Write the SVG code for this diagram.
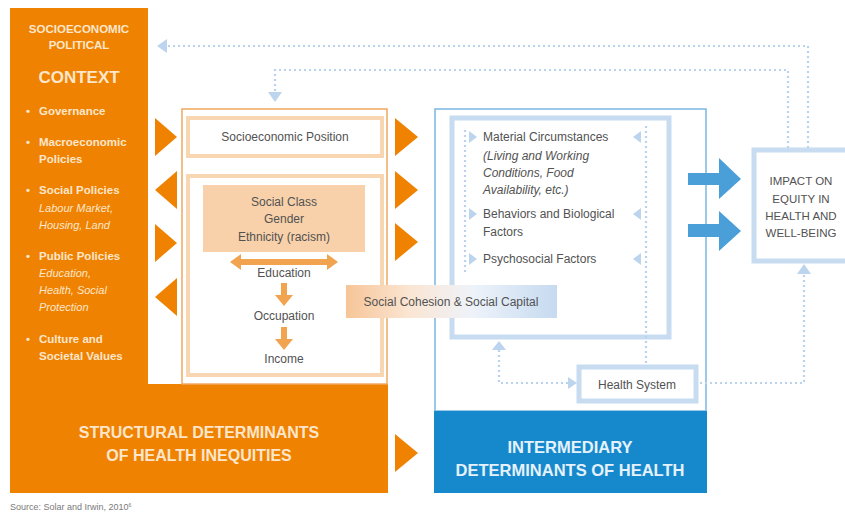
<svg xmlns="http://www.w3.org/2000/svg" width="845" height="520" viewBox="0 0 845 520">
  <defs>
    <style>
      text { font-family: "Liberation Sans", Arial, sans-serif; }
      .ctx { fill: #fde6cc; font-size: 11.5px; font-weight: bold; }
      .ctxi { fill: #fde6cc; font-size: 11px; font-style: italic; }
      .lbl { fill: #525252; font-size: 12px; }
      .lbli { fill: #525252; font-size: 12px; font-style: italic; }
      .imp { fill: #525252; font-size: 11.5px; }
      .big { fill: #fde6cc; font-size: 16px; font-weight: bold; }
      .bigb { fill: #e6f2fb; font-size: 16.5px; font-weight: bold; }
      .peach { fill: none; stroke: #f9d6b2; stroke-width: 4; }
      .lblue { fill: none; stroke: #c8dcf1; stroke-width: 5; }
      .dot { fill: none; stroke: #b9d2ee; stroke-width: 2.2; stroke-dasharray: 2 3; }
      .dhead { fill: #bcd4ee; }
      .otri { fill: #ef8200; }
      .larrow { fill: #f2a34f; }
      .barrow { fill: #4a9fd9; }
    </style>
    <linearGradient id="cohesionFill" x1="0" y1="0" x2="1" y2="0">
      <stop offset="0" stop-color="#f6c597"/>
      <stop offset="0.3" stop-color="#fbe5d3"/>
      <stop offset="0.6" stop-color="#eef3fa"/>
      <stop offset="1" stop-color="#c6daf0"/>
    </linearGradient>
  </defs>

  <rect width="845" height="520" fill="#ffffff"/>

  <!-- Structural block: context column and bottom band -->
  <g id="structural">
    <path d="M10,8 H148 V384 H388 V493 H10 Z" fill="#ef8200"/>
    <text class="big" x="199" y="438" text-anchor="middle">STRUCTURAL DETERMINANTS</text>
    <text class="big" x="199" y="461" text-anchor="middle">OF HEALTH INEQUITIES</text>
  </g>

  <g id="context">
    <text class="ctx" x="79" y="33" text-anchor="middle">SOCIOECONOMIC</text>
    <text class="ctx" x="79" y="49" text-anchor="middle">POLITICAL</text>
    <text class="ctx" x="79" y="83" text-anchor="middle" style="font-size:17px">CONTEXT</text>
    <text class="ctx" x="26" y="115">•</text>
    <text class="ctx" x="39" y="115">Governance</text>
    <text class="ctx" x="26" y="146">•</text>
    <text class="ctx" x="39" y="146">Macroeconomic</text>
    <text class="ctx" x="39" y="163">Policies</text>
    <text class="ctx" x="26" y="194">•</text>
    <text class="ctx" x="39" y="194">Social Policies</text>
    <text class="ctxi" x="39" y="212">Labour Market,</text>
    <text class="ctxi" x="39" y="229">Housing, Land</text>
    <text class="ctx" x="26" y="260">•</text>
    <text class="ctx" x="39" y="260">Public Policies</text>
    <text class="ctxi" x="39" y="277">Education,</text>
    <text class="ctxi" x="39" y="294">Health, Social</text>
    <text class="ctxi" x="39" y="311">Protection</text>
    <text class="ctx" x="26" y="343">•</text>
    <text class="ctx" x="39" y="343">Culture and</text>
    <text class="ctx" x="39" y="360">Societal Values</text>
  </g>

  <!-- Socioeconomic position frame -->
  <g id="position-frame">
    <rect x="182" y="109" width="205" height="275" fill="#ffffff" stroke="#f1a860" stroke-width="1.5"/>
  </g>

  <g id="socioeconomic-position">
    <rect class="peach" x="188" y="118" width="194" height="38"/>
    <text class="lbl" x="285" y="141" text-anchor="middle">Socioeconomic Position</text>
  </g>

  <g id="stratifiers">
    <rect class="peach" x="188" y="176" width="194" height="199"/>
    <rect x="203" y="185" width="162" height="67" fill="#f8d1aa"/>
    <text class="lbl" x="284" y="206" text-anchor="middle">Social Class</text>
    <text class="lbl" x="284" y="223" text-anchor="middle">Gender</text>
    <text class="lbl" x="284" y="241" text-anchor="middle">Ethnicity (racism)</text>
    <text class="lbl" x="284" y="277" text-anchor="middle">Education</text>
    <text class="lbl" x="284" y="320" text-anchor="middle">Occupation</text>
    <text class="lbl" x="284" y="363" text-anchor="middle">Income</text>
  </g>

  <!-- Intermediary block -->
  <g id="intermediary">
    <rect x="435" y="109" width="271" height="302" fill="#ffffff" stroke="#7ab7e1" stroke-width="1.5"/>
    <rect x="434" y="411" width="273" height="82" fill="#1689cd"/>
    <text class="bigb" x="570" y="453" text-anchor="middle">INTERMEDIARY</text>
    <text class="bigb" x="570" y="476" text-anchor="middle">DETERMINANTS OF HEALTH</text>
  </g>

  <g id="circumstances">
    <rect class="lblue" x="452" y="118" width="217" height="219"/>
    <text class="lbl" x="483" y="141">Material Circumstances</text>
    <text class="lbli" x="483" y="160">(Living and Working</text>
    <text class="lbli" x="483" y="177">Conditions, Food</text>
    <text class="lbli" x="483" y="194">Availability, etc.)</text>
    <text class="lbl" x="483" y="218">Behaviors and Biological</text>
    <text class="lbl" x="483" y="236">Factors</text>
    <text class="lbl" x="483" y="263">Psychosocial Factors</text>
  </g>

  <g id="health-system">
    <rect x="579" y="367" width="117" height="34" fill="#ffffff" stroke="#c8dcf1" stroke-width="5"/>
    <text class="lbl" x="637" y="389" text-anchor="middle">Health System</text>
  </g>

  <g id="impact">
    <rect x="754" y="150" width="95" height="111" fill="#ffffff" stroke="#c8dcf1" stroke-width="5"/>
    <text class="imp" x="801" y="185" text-anchor="middle">IMPACT ON</text>
    <text class="imp" x="801" y="203" text-anchor="middle">EQUITY IN</text>
    <text class="imp" x="801" y="220" text-anchor="middle">HEALTH AND</text>
    <text class="imp" x="801" y="237" text-anchor="middle">WELL-BEING</text>
  </g>

  <!-- Connectors -->
  <g id="connectors">
    <!-- feedback loops from impact -->
    <path class="dot" d="M808,148 V46 H165"/>
    <polygon class="dhead" points="157,46 167,39 167,53"/>
    <path class="dot" d="M788,148 V70 H275 V92"/>
    <polygon class="dhead" points="275,102 268,92 282,92"/>

    <!-- dotted links inside intermediary block -->
    <path class="dot" d="M465,130 V272"/>
    <polygon class="dhead" points="477,137 469,131 469,143"/>
    <polygon class="dhead" points="477,214 469,208 469,220"/>
    <polygon class="dhead" points="477,259 469,253 469,265"/>
    <path class="dot" d="M646,126 V364"/>
    <polygon class="dhead" points="633,137 641,131 641,143"/>
    <polygon class="dhead" points="633,214 641,208 641,220"/>
    <polygon class="dhead" points="633,259 641,253 641,265"/>

    <!-- health system links -->
    <path class="dot" d="M499,350 V383 H568"/>
    <polygon class="dhead" points="499,341 492,350 506,350"/>
    <polygon class="dhead" points="577,383 568,377 568,389"/>
    <path class="dot" d="M700,383 H804 V274"/>
    <polygon class="dhead" points="804,264 797,274 811,274"/>

    <!-- context / position exchange -->
    <polygon class="otri" points="155,118 177,137 155,156"/>
    <polygon class="otri" points="177,171 155,190 177,209"/>
    <polygon class="otri" points="155,224 177,243 155,262"/>
    <polygon class="otri" points="177,278 155,297 177,316"/>

    <!-- position to intermediary -->
    <polygon class="otri" points="395,118 418,137 395,156"/>
    <polygon class="otri" points="395,171 418,190 395,209"/>
    <polygon class="otri" points="395,223 418,242 395,261"/>
    <polygon class="otri" points="395,434 418,453 395,472"/>

    <!-- stratifier arrows -->
    <path class="larrow" d="M230,262 L241,254 V259 H327 V254 L338,262 L327,270 V265 H241 V270 Z"/>
    <path class="larrow" d="M281,283 H287 V295 H293 L284,306 L275,295 H281 Z"/>
    <path class="larrow" d="M281,327 H287 V339 H293 L284,350 L275,339 H281 Z"/>

    <!-- to impact -->
    <path class="barrow" d="M688,173 H719 V158 L741,179 L719,199 V185 H688 Z"/>
    <path class="barrow" d="M688,224 H719 V211 L741,231 L719,251 V237 H688 Z"/>
  </g>

  <g id="social-cohesion">
    <rect x="346" y="285" width="211" height="33" fill="url(#cohesionFill)"/>
    <text class="lbl" x="451" y="306" text-anchor="middle">Social Cohesion &amp; Social Capital</text>
  </g>

  <text x="10" y="510" fill="#7a7a7a" font-size="9" font-family="Liberation Sans, Arial, sans-serif">Source: Solar and Irwin, 2010<tspan font-size="5" dy="-3">6</tspan></text>
</svg>
